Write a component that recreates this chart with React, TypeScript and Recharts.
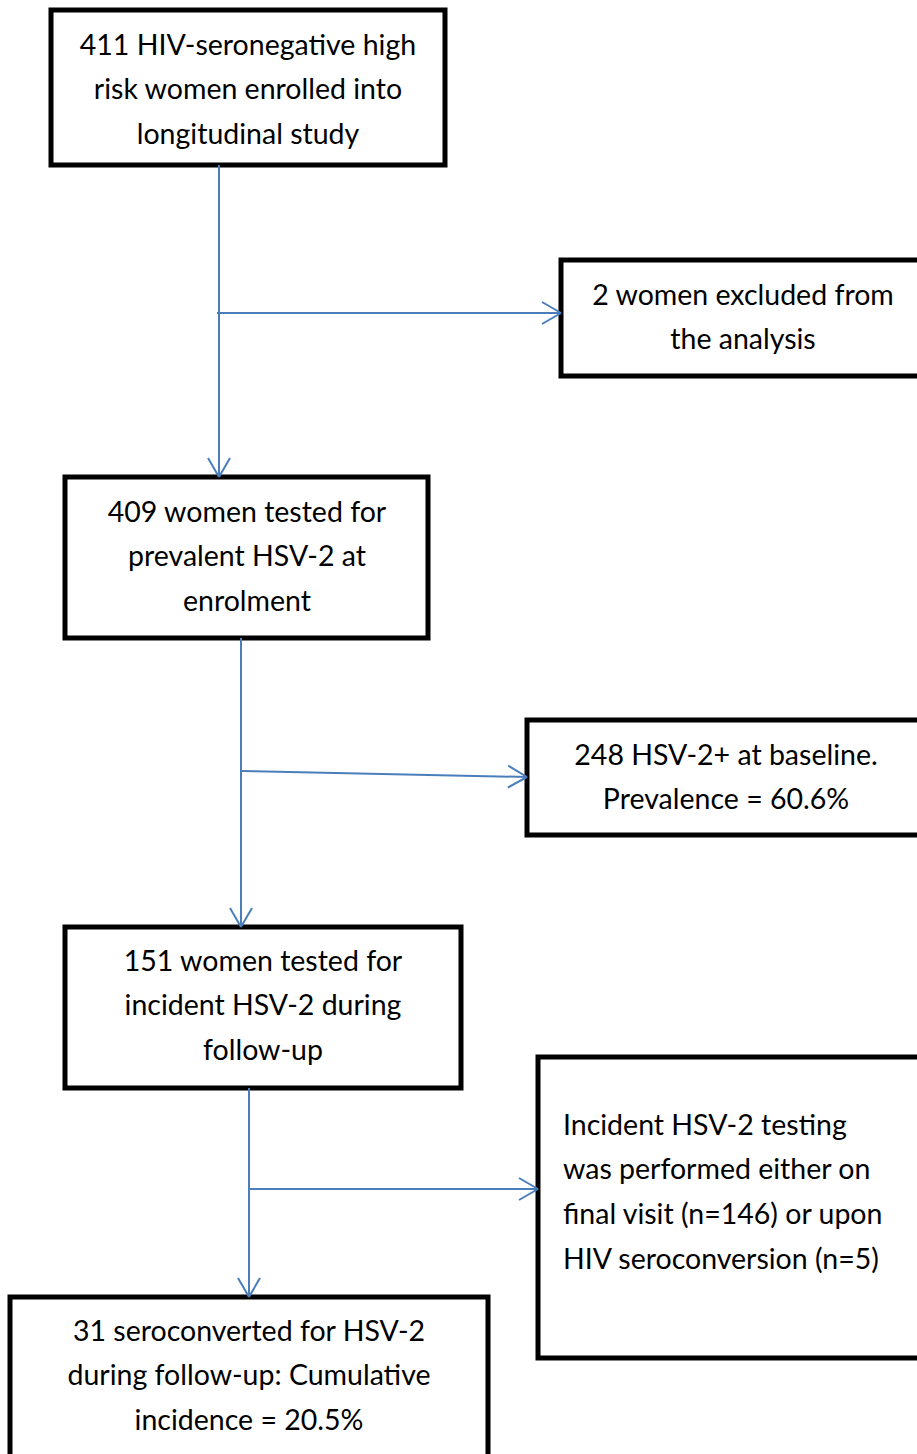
import React from 'react';
import { ComposedChart, XAxis, YAxis, ReferenceArea, ReferenceLine, Scatter } from 'recharts';

// flowchart boxes, in page units (x: 0..917, y: 0..1454 from top)
const boxX1 = [51, 561, 65, 527, 65, 538, 10];
const boxX2 = [445, 935, 428, 935, 461, 935, 488];
const boxY1 = [10, 260, 477, 720, 927, 1057, 1297];
const boxY2 = [165, 376, 638, 835, 1088, 1358, 1470];
const boxTextX = [248, 743, 247, 726, 263, 563, 249];
const boxTextY = [45, 295, 512, 755, 961, 1125, 1331];
const boxAlign = ['middle', 'middle', 'middle', 'middle', 'middle', 'start', 'middle'];
const boxLines = [
  ['411 HIV-seronegative high', 'risk women enrolled into', 'longitudinal study'],
  ['2 women excluded from', 'the analysis'],
  ['409 women tested for', 'prevalent HSV-2 at', 'enrolment'],
  ['248 HSV-2+ at baseline.', 'Prevalence = 60.6%'],
  ['151 women tested for', 'incident HSV-2 during', 'follow-up'],
  ['Incident HSV-2 testing', 'was performed either on', 'final visit (n=146) or upon', 'HIV seroconversion (n=5)'],
  ['31 seroconverted for HSV-2', 'during follow-up: Cumulative', 'incidence = 20.5%'],
];

// connector arrows (head at the second point)
const arrowX1 = [219, 217, 241, 241, 249, 249];
const arrowY1 = [165, 313, 638, 771, 1088, 1189];
const arrowX2 = [219, 561, 241, 527, 249, 538];
const arrowY2 = [477, 313, 927, 777, 1297, 1189];

const LINE_GAP = 44.8;
const FONT = 28.5;
const BLUE = '#4A7EBB';

const boxes = boxX1.map((x1, i) => ({ x: (x1 + boxX2[i]) / 2, y: (boxY1[i] + boxY2[i]) / 2 }));

const heads = arrowX1.flatMap((x1, i) => {
  const dx = arrowX2[i] - x1;
  const dy = arrowY2[i] - arrowY1[i];
  const len = Math.sqrt(dx * dx + dy * dy);
  const ux = dx / len;
  const uy = dy / len;
  const back = 19;
  const half = 11;
  return [1, -1].map(s => [
    { x: arrowX2[i] - ux * back - uy * half * s, y: arrowY2[i] - uy * back + ux * half * s },
    { x: arrowX2[i], y: arrowY2[i] },
  ]);
});

const boxLabel = (i: number) => (props: any) => {
  const vb = props.viewBox || {};
  const sx = vb.width / (boxX2[i] - boxX1[i]);
  const sy = vb.height / (boxY2[i] - boxY1[i]);
  const tx = vb.x + (boxTextX[i] - boxX1[i]) * sx;
  const ty = vb.y + (boxTextY[i] - boxY1[i]) * sy;
  return (
    <g>
      {boxLines[i].map((line, j) => (
        <text
          key={j}
          x={tx}
          y={ty + j * LINE_GAP * sy + FONT * 0.34}
          textAnchor={boxAlign[i] as any}
          fontFamily="Lato, 'Open Sans', sans-serif"
          fontSize={FONT}
          fill="#000"
        >
          {line}
        </text>
      ))}
    </g>
  );
};

export default function App() {
  return (
    <div style={{ width: 917, height: 1454, background: '#fff' }}>
      <style>{'body{margin:0}'}</style>
      <ComposedChart width={917} height={1454} margin={{ top: 0, right: 0, bottom: 0, left: 0 }}>
        <XAxis type="number" dataKey="x" domain={[0, 917]} hide allowDataOverflow />
        <YAxis type="number" dataKey="y" domain={[0, 1454]} reversed hide allowDataOverflow />
        <Scatter data={boxes} fill="none" isAnimationActive={false} />
        {arrowX1.map((x1, i) => (
          <ReferenceLine
            key={`a${i}`}
            segment={[{ x: x1, y: arrowY1[i] }, { x: arrowX2[i], y: arrowY2[i] }]}
            stroke={BLUE}
            strokeWidth={2}
            ifOverflow="visible"
          />
        ))}
        {heads.map((seg, i) => (
          <ReferenceLine key={`h${i}`} segment={seg} stroke={BLUE} strokeWidth={2} ifOverflow="visible" />
        ))}
        {boxX1.map((x1, i) => (
          <ReferenceArea
            key={`b${i}`}
            x1={x1}
            x2={boxX2[i]}
            y1={boxY1[i]}
            y2={boxY2[i]}
            fill="#fff"
            fillOpacity={1}
            stroke="#000"
            strokeWidth={5}
            ifOverflow="hidden"
            label={boxLabel(i)}
          />
        ))}
      </ComposedChart>
    </div>
  );
}
